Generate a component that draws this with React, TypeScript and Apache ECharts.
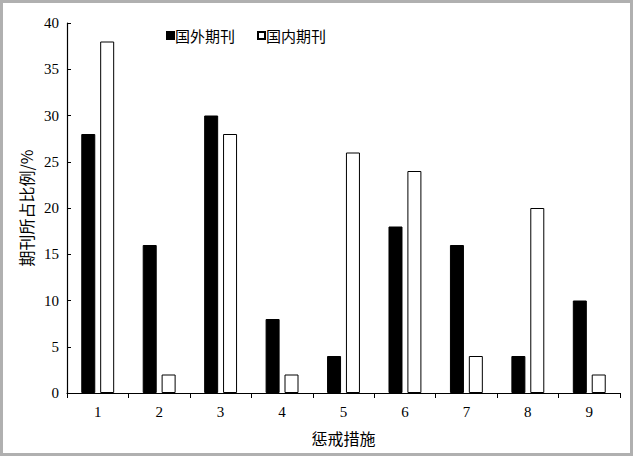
import React, { useEffect, useRef } from "react";
import * as echarts from "echarts";

const categories = ["1", "2", "3", "4", "5", "6", "7", "8", "9"];
const foreignValues = [28, 16, 30, 8, 4, 18, 16, 4, 10];
const domesticValues = [38, 2, 28, 2, 26, 24, 4, 20, 2];
const seriesNames = ["国外期刊", "国内期刊"];
const yTicks = [0, 5, 10, 15, 20, 25, 30, 35, 40];

const serif = "'Liberation Serif', 'Noto Sans CJK SC', serif";
const cjk = "'Noto Sans CJK SC', 'Liberation Serif', serif";

export default function App() {
  const ref = useRef<HTMLDivElement>(null);
  useEffect(() => {
    document.body.style.margin = "0";
    const chart = echarts.init(ref.current!, null, { renderer: "svg" });
    chart.setOption({
      animation: false,
      backgroundColor: "#ffffff",
      grid: { left: 64, right: 10, top: 20, bottom: 60 },
      legend: {
        left: 158,
        top: 20,
        itemWidth: 7,
        itemHeight: 7,
        itemGap: 22,
        icon: "rect",
        textStyle: { fontFamily: cjk, fontSize: 15, color: "#000", padding: [0, 0, 0, -4] },
        data: seriesNames,
      },
      xAxis: {
        type: "category",
        data: categories,
        name: "惩戒措施",
        nameLocation: "middle",
        nameGap: 37,
        nameMoveOverlap: false,
        nameTextStyle: { fontFamily: cjk, fontSize: 16, color: "#000" },
        axisLine: { lineStyle: { color: "#000", width: 1.2 } },
        axisTick: { show: true, inside: false, length: 5, lineStyle: { color: "#000" } },
        axisLabel: { fontFamily: serif, fontSize: 15, color: "#000", margin: 11 },
      },
      yAxis: {
        type: "value",
        min: 0,
        max: 40,
        interval: 5,
        name: "期刊所占比例/%",
        nameLocation: "middle",
        nameGap: 33,
        nameMoveOverlap: false,
        nameTextStyle: { fontFamily: cjk, fontSize: 16, color: "#000" },
        axisLine: { show: true, lineStyle: { color: "#000", width: 1.2 } },
        axisTick: { show: true, inside: true, length: 4, lineStyle: { color: "#000" } },
        axisLabel: {
          fontFamily: serif,
          fontSize: 15,
          color: "#000",
          margin: 8,
          formatter: (v: number) => (yTicks.includes(v) ? String(v) : ""),
        },
        splitLine: { show: false },
      },
      series: [
        {
          name: seriesNames[0],
          type: "bar",
          data: foreignValues,
          barWidth: 14,
          barGap: "35%",
          itemStyle: { color: "#000", borderColor: "#000", borderWidth: 1 },
        },
        {
          name: seriesNames[1],
          type: "bar",
          data: domesticValues,
          barWidth: 14,
          itemStyle: { color: "#fff", borderColor: "#000", borderWidth: 1 },
        },
      ],
    });
    return () => chart.dispose();
  }, []);
  return (
    <div
      style={{
        position: "fixed",
        left: 0,
        top: 0,
        width: 633,
        height: 456,
        boxSizing: "border-box",
        border: "3px solid #b0b0b0",
        background: "#fff",
      }}
    >
      <div ref={ref} style={{ width: 627, height: 450 }} />
    </div>
  );
}
